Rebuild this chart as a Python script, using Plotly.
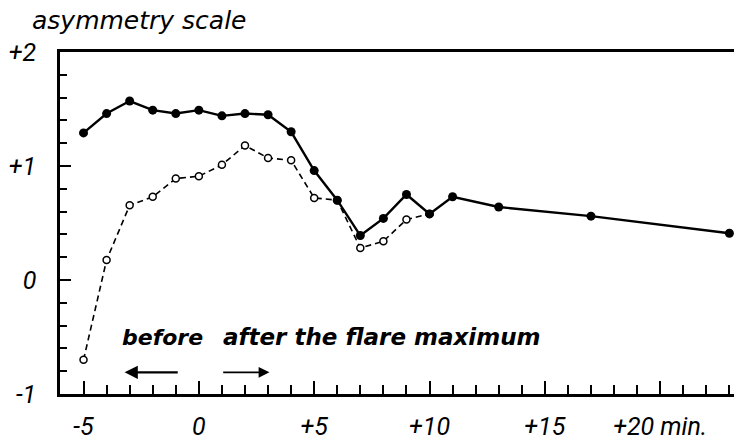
import plotly.graph_objects as go

# ---- data ----
minutes = [-5, -4, -3, -2, -1, 0, 1, 2, 3, 4, 5, 6, 7, 8, 9, 10, 11, 13, 17, 23]
asym_filled = [1.29, 1.46, 1.57, 1.49, 1.46, 1.49, 1.44, 1.46, 1.45, 1.30,
               0.96, 0.70, 0.39, 0.54, 0.75, 0.58, 0.73, 0.64, 0.56, 0.41]

minutes_open = [-5, -4, -3, -2, -1, 0, 1, 2, 3, 4, 5, 6, 7, 8, 9, 10]
asym_open = [-0.70, 0.175, 0.655, 0.73, 0.89, 0.91, 1.01, 1.18, 1.07, 1.05,
             0.72, 0.70, 0.28, 0.34, 0.53, 0.58]

x_tick_values = [-5, 0, 5, 10, 15, 20]
x_tick_labels = ["-5", "0", "+5", "+10", "+15", "+20 min."]
y_tick_values = [-1, 0, 1, 2]
y_tick_labels = ["-1", "0", "+1", "+2"]

title_text = "asymmetry scale"
before_text = "before"
after_text = "after the flare maximum"

FONT = "DejaVu Sans"
TICK_FONT = "Roboto"

fig = go.Figure()

fig.add_trace(go.Scatter(
    x=minutes_open, y=asym_open, mode="lines+markers",
    line=dict(color="black", width=1.6, dash="6px,4px"),
    marker=dict(symbol="circle", size=7, color="white",
                line=dict(color="black", width=1.5)),
    cliponaxis=False, showlegend=False, hoverinfo="skip"))

fig.add_trace(go.Scatter(
    x=minutes, y=asym_filled, mode="lines+markers",
    line=dict(color="black", width=2.4),
    marker=dict(symbol="circle", size=9, color="black"),
    cliponaxis=False, showlegend=False, hoverinfo="skip"))

tickfont = dict(family=TICK_FONT, size=25, color="black", style="italic")

fig.update_xaxes(
    range=[-6.02, 23.2], showgrid=False, zeroline=False, automargin=False,
    showline=True, linecolor="black", linewidth=2.5, mirror=True,
    tickmode="array", tickvals=x_tick_values, ticktext=x_tick_labels,
    ticks="inside", ticklen=13, tickwidth=2, tickcolor="black",
    minor=dict(dtick=1, tick0=0, ticks="inside", ticklen=9,
               tickwidth=2, tickcolor="black", showgrid=False),
    tickfont=tickfont, ticklabelstandoff=8,
)
fig.update_yaxes(
    range=[-1, 2], showgrid=False, zeroline=False, automargin=False,
    showline=True, linecolor="black", linewidth=2.5, mirror=False,
    tickmode="array", tickvals=y_tick_values, ticktext=y_tick_labels,
    ticks="inside", ticklen=11, tickwidth=2, tickcolor="black",
    minor=dict(dtick=0.2, tick0=0, ticks="inside", ticklen=7,
               tickwidth=2, tickcolor="black", showgrid=False),
    tickfont=tickfont, ticklabelstandoff=16,
)

before_font = dict(family=FONT, size=22, color="black", style="italic", weight="bold")
after_font = dict(family=FONT, size=23, color="black", style="italic", weight="bold")

fig.add_annotation(x=-3.4, y=-0.5, xref="x", yref="y", text=before_text,
                   showarrow=False, xanchor="left", yanchor="middle", font=before_font)
fig.add_annotation(x=0.95, y=-0.5, xref="x", yref="y", text=after_text,
                   showarrow=False, xanchor="left", yanchor="middle", font=after_font)

# arrows
fig.add_annotation(x=-3.22, y=-0.81, ax=-0.85, ay=-0.81, xref="x", yref="y",
                   axref="x", ayref="y", text="", showarrow=True,
                   arrowhead=2, arrowsize=1.2, arrowwidth=2.2, arrowcolor="black")
fig.add_annotation(x=3.06, y=-0.81, ax=0.99, ay=-0.81, xref="x", yref="y",
                   axref="x", ayref="y", text="", showarrow=True,
                   arrowhead=2, arrowsize=1.2, arrowwidth=1.8, arrowcolor="black")

fig.update_layout(
    width=734, height=443, autosize=False,
    margin=dict(l=60, r=0, t=52, b=49, autoexpand=False),
    paper_bgcolor="white", plot_bgcolor="white",
    title=dict(text=title_text, x=32 / 734, xanchor="left",
               y=1 - 20 / 443, yanchor="middle", automargin=False,
               font=dict(family=FONT, size=25, color="black", style="italic")),
)

fig.write_html(
    "out.html",
    config={"displayModeBar": False},
    post_script="document.body.style.margin='0';document.body.style.overflow='hidden';",
)
